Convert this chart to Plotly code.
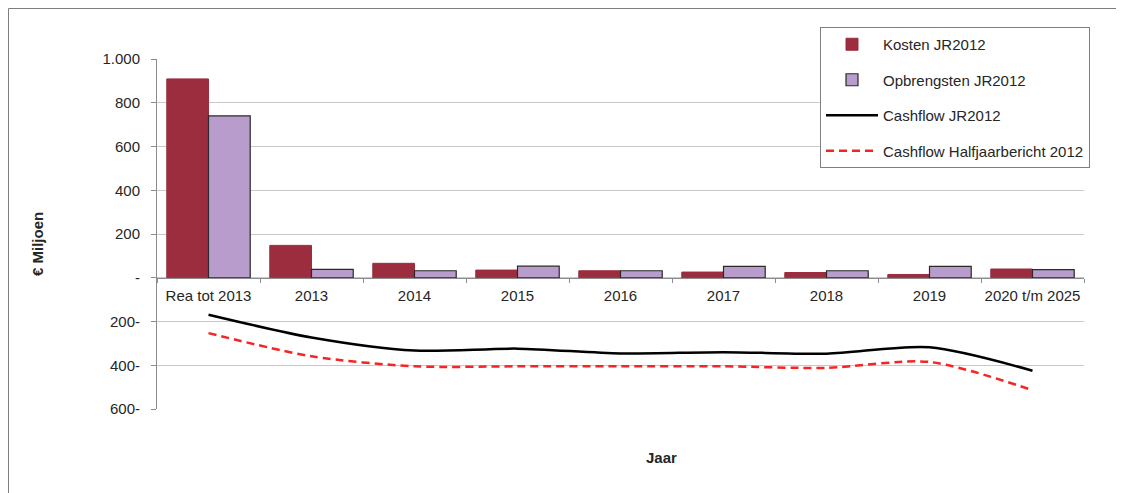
import plotly.graph_objects as go

categories = ["Rea tot 2013", "2013", "2014", "2015", "2016", "2017", "2018", "2019", "2020 t/m 2025"]
kosten = [909, 148, 66, 35, 32, 26, 24, 15, 40]
opbrengsten = [740, 38, 32, 53, 32, 52, 32, 52, 37]
cashflow_jr = [-169, -273, -333, -324, -346, -340, -347, -318, -425]
cashflow_half = [-253, -359, -405, -405, -405, -405, -412, -385, -514]

y_tickvals = [1000, 800, 600, 400, 200, 0, -200, -400, -600]
y_ticktext = ["1.000", "800", "600", "400", "200", "-", "200-", "400-", "600-"]

FONT = "Liberation Sans, Arial, sans-serif"
TXT = "#262626"

# page body has an 8px margin: figure origin is at page (8, 8)
OFF = 8
W, H = 1124 - OFF, 493 - OFF
L, T, R, B = 157 - OFF, 59 - OFF, 1084 - OFF, 409 - OFF
PW, PH = R - L, B - T


def px(xp):
    return (xp - OFF - L) / PW


def py(yp):
    return (B - (yp - OFF)) / PH


fig = go.Figure()
fig.add_trace(go.Bar(x=categories, y=kosten, name="Kosten JR2012",
                     marker=dict(color="#9B2D3F", line=dict(color="#9B2D3F", width=1)),
                     legendgroup="a"))
fig.add_trace(go.Bar(x=categories, y=opbrengsten, name="Opbrengsten JR2012",
                     marker=dict(color="#B89CCB", line=dict(color="#2A2A2A", width=1.2)),
                     legendgroup="b"))
fig.add_trace(go.Scatter(x=categories, y=cashflow_jr, name="Cashflow JR2012", mode="lines",
                         line=dict(color="#000000", width=2.5, shape="spline", smoothing=0.8),
                         legendgroup="c"))
fig.add_trace(go.Scatter(x=categories, y=cashflow_half, name="Cashflow Halfjaarbericht 2012", mode="lines",
                         line=dict(color="#F52525", width=2.5, shape="spline", smoothing=0.8, dash="8px,5px"),
                         legendgroup="d"))

fig.update_layout(
    width=W, height=H,
    margin=dict(l=L, r=W - R, t=T, b=H - B),
    paper_bgcolor="white", plot_bgcolor="white",
    font=dict(family=FONT, size=15, color=TXT),
    barmode="group", bargap=0.19, bargroupgap=0,
    showlegend=True,
    legend=dict(x=px(820), y=py(27), xanchor="left", yanchor="top",
                bgcolor="white", bordercolor="#7F7F7F", borderwidth=1,
                font=dict(family=FONT, size=15, color=TXT),
                tracegroupgap=13, traceorder="grouped",
                itemwidth=52),
    xaxis=dict(type="category", anchor="free", position=0.375,
               showline=True, linecolor="#8C8C8C", linewidth=1,
               ticks="outside", ticklen=4, tickcolor="#8C8C8C", tickson="boundaries",
               showgrid=False, tickangle=0, ticklabelstandoff=4,
               tickfont=dict(family=FONT, size=15, color=TXT),
               range=[-0.5, 8.5], fixedrange=True),
    yaxis=dict(range=[-600, 1000], tickvals=y_tickvals, ticktext=y_ticktext,
               showline=True, linecolor="#8C8C8C", linewidth=1,
               ticks="outside", ticklen=5, tickcolor="#8C8C8C",
               showgrid=True, gridcolor="#C8C8C8", gridwidth=1,
               zeroline=False, tickfont=dict(family=FONT, size=15, color=TXT),
               ticklabelstandoff=8),
)

fig.add_annotation(text="€ Miljoen", xref="paper", yref="paper",
                   x=px(37), y=py(244), textangle=-90, xanchor="center", yanchor="middle",
                   showarrow=False, font=dict(family=FONT, size=15, color=TXT, weight="bold"))
fig.add_annotation(text="Jaar", xref="paper", yref="paper",
                   x=px(661), y=py(457), xanchor="center", yanchor="middle",
                   showarrow=False, font=dict(family=FONT, size=15, color=TXT, weight="bold"))

# outer frame: only its left and top edges fall inside the picture
fig.add_shape(type="rect", xref="paper", yref="paper",
              x0=px(8.5), x1=px(1140), y0=py(520), y1=py(8.5),
              line=dict(color="#7F7F7F", width=1), fillcolor="rgba(0,0,0,0)", layer="below")

fig.write_html("out.html")
